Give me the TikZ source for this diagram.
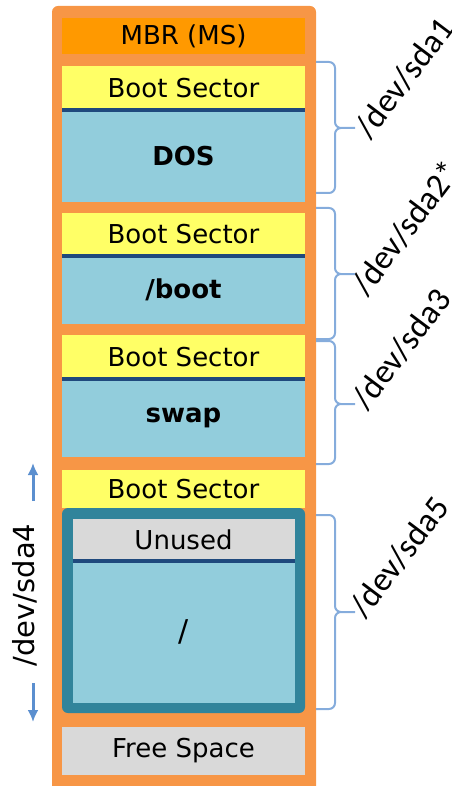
\documentclass[tikz,border=0pt]{standalone}
\usepackage{fontspec}
\setmainfont{DejaVu Sans}
\newfontfamily\labelfont{Carlito}
\usetikzlibrary{positioning,arrows.meta}
\definecolor{frameorange}{HTML}{F79646}
\definecolor{mbrorange}{HTML}{FF9900}
\definecolor{bootyellow}{HTML}{FFFF66}
\definecolor{partblue}{HTML}{92CDDC}
\definecolor{extteal}{HTML}{31849B}
\definecolor{unusedgrey}{HTML}{D9D9D9}
\definecolor{darkline}{HTML}{1F497D}
\definecolor{braceblue}{HTML}{85ACDC}
\definecolor{arrowblue}{HTML}{5B8FCF}

\begin{document}
\begin{tikzpicture}[x=1pt, y=-1pt]
\tikzstyle{block}=[minimum width=243pt, inner sep=0pt, outer sep=0pt, font=\fontsize{26}{31}\selectfont]
\tikzstyle{bsec}=[block, fill=bootyellow]
\tikzstyle{part}=[block, fill=partblue, font=\fontsize{26}{31}\selectfont\bfseries]
\tikzstyle{divider}=[draw=darkline, line width=4pt]
\tikzstyle{dev}=[font=\labelfont\fontsize{34}{39}\selectfont, inner sep=0pt]
\tikzstyle{brc}=[draw=braceblue, line width=2pt, rounded corners=6pt]
\tikzstyle{devarrow}=[draw=arrowblue, line width=3pt, -{Latex[length=12pt, width=11pt]}]

	\useasboundingbox (0,0) rectangle (451,786);
	\fill[frameorange, rounded corners=6pt] (52,786) -- (52,6) -- (316,6) -- (316,786);

	\node[block, fill=mbrorange, minimum height=36pt] (mbr) at (183.5,36) {MBR (MS)};
	\node[bsec, minimum height=44pt, below=12pt of mbr] (bs1) {Boot Sector};
	\node[part, minimum height=92pt, below=0pt of bs1] (dos) {DOS};
	\node[bsec, minimum height=43pt, below=11pt of dos] (bs2) {Boot Sector};
	\node[part, minimum height=68pt, below=0pt of bs2] (boot) {/boot};
	\node[bsec, minimum height=44pt, below=11pt of boot] (bs3) {Boot Sector};
	\node[part, minimum height=78pt, below=0pt of bs3] (swap) {swap};
	\node[bsec, minimum height=38pt, below=13pt of swap] (bs4) {Boot Sector};
	\node[block, fill=extteal, rounded corners=6pt, minimum height=205pt, below=0pt of bs4] (ext) {};
	\node[block, fill=unusedgrey, minimum width=222pt, minimum height=42pt, below=11pt of ext.north] (unused) {Unused};
	\node[block, fill=partblue, minimum width=222pt, minimum height=142pt, below=0pt of unused, font=\fontsize{30}{36}\selectfont] (root) {/};
	\node[block, fill=unusedgrey, minimum height=48pt, below=14pt of ext] (free) {Free Space};

	\foreach \p in {dos,boot,swap,root}
		\draw[divider] (\p.north west) -- (\p.north east);

	% braces on the right: top, tip, bottom
	\coordinate (b1t) at (316,62);
	\coordinate (b1m) at (355,128);
	\coordinate (b1b) at (316,193);
	\coordinate (b2t) at (316,208);
	\coordinate (b2m) at (355,274);
	\coordinate (b2b) at (316,339);
	\coordinate (b3t) at (316,341);
	\coordinate (b3m) at (355,404);
	\coordinate (b3b) at (316,464);
	\coordinate (b5t) at (316,515);
	\coordinate (b5m) at (355,612);
	\coordinate (b5b) at (316,709);

	\foreach \b in {b1,b2,b3,b5}
		\draw[brc] (\b t) -| ([xshift=-20pt]\b m) -- (\b m)
			(\b m) -- ([xshift=-20pt]\b m) |- (\b b);

	\node[dev, xshift=7pt, yshift=-6pt, rotate=53, anchor=west] (sda1) at (b1m) {/dev/sda1};
	\node[dev, xshift=3pt, yshift=-17pt, rotate=53, anchor=west] (sda2) at (b2m) {/dev/sda2*};
	\node[dev, xshift=4pt, yshift=-1pt, rotate=53, anchor=west] (sda3) at (b3m) {/dev/sda3};
	\node[dev, xshift=2pt, yshift=-1pt, rotate=53, anchor=west] (sda5) at (b5m) {/dev/sda5};

	% extended partition on the left
	\node[font=\fontsize{29}{34}\selectfont, inner sep=0pt, rotate=90] (sda4) at (25,595) {/dev/sda4};
	\coordinate (a4up) at (33,501);
	\coordinate (a4top) at (33,463);
	\coordinate (a4dn) at (33,683);
	\coordinate (a4bot) at (33,722);
	\draw[devarrow] (a4up) -- (a4top);
	\draw[devarrow] (a4dn) -- (a4bot);
\end{tikzpicture}
\end{document}
